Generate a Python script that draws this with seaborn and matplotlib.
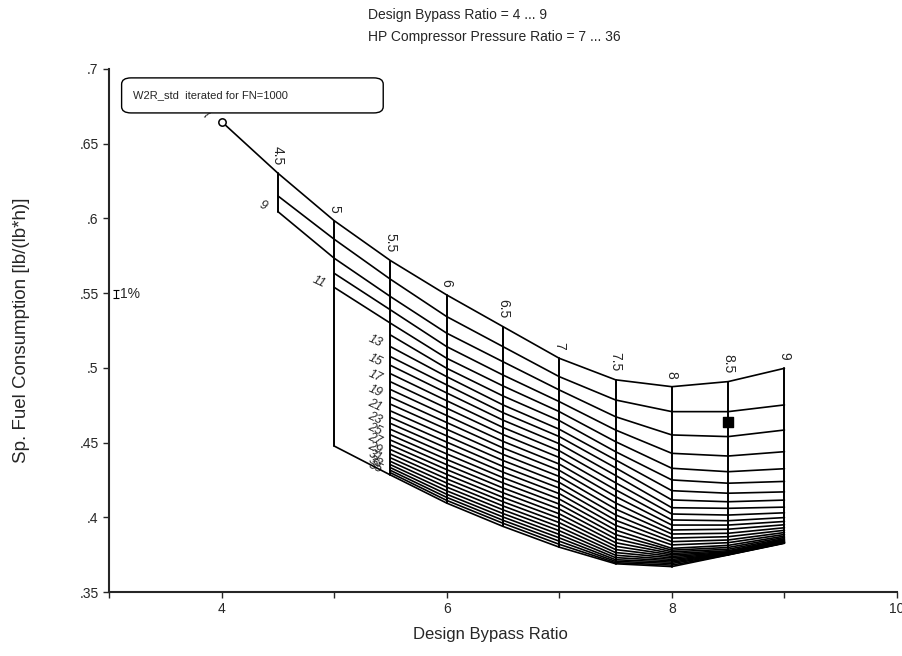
import pandas as pd
import numpy as np
import matplotlib
matplotlib.use("Agg")
import matplotlib.pyplot as plt
import seaborn as sns
from matplotlib.patches import FancyBboxPatch

# HP compressor pressure ratio levels (one carpet line each)
pr_levels = [7, 8, 9, 10, 11, 12, 13, 14, 15, 16, 17, 18, 19, 20, 21,
             22, 23, 24, 25, 26, 27, 28, 29, 30, 31, 32, 33, 34, 35, 36]
# design bypass ratio levels (vertical carpet lines)
bpr_levels = [4.0, 4.5, 5.0, 5.5, 6.0, 6.5, 7.0, 7.5, 8.0, 8.5, 9.0]

# low bypass ratios only converged for a few pressure ratios
pr_40 = [7]
pr_45 = [7, 8, 9]
pr_50 = [7, 8, 9, 10, 11, 36]

# sp. fuel consumption [lb/(lb*h)], per bypass ratio
sfc_40 = [0.6648]
sfc_45 = [0.6303, 0.6151, 0.6046]
sfc_50 = [0.5985, 0.5861, 0.5734, 0.5633, 0.5539, 0.4477]
sfc_55 = [0.5718, 0.5593, 0.5477, 0.5388, 0.5299, 0.5220, 0.5142, 0.5075, 0.5017, 0.4961,
          0.4907, 0.4855, 0.4805, 0.4757, 0.4712, 0.4669, 0.4628, 0.4589, 0.4552, 0.4517,
          0.4484, 0.4453, 0.4424, 0.4398, 0.4374, 0.4352, 0.4332, 0.4314, 0.4298, 0.4283]
sfc_60 = [0.5488, 0.5343, 0.5232, 0.5142, 0.5064, 0.4997, 0.4941, 0.4886, 0.4832, 0.4780,
          0.4730, 0.4681, 0.4634, 0.4589, 0.4545, 0.4503, 0.4463, 0.4424, 0.4387, 0.4352,
          0.4319, 0.4287, 0.4257, 0.4229, 0.4202, 0.4177, 0.4154, 0.4133, 0.4113, 0.4095]
sfc_65 = [0.5276, 0.5142, 0.5041, 0.4952, 0.4879, 0.4812, 0.4752, 0.4700, 0.4650, 0.4601,
          0.4554, 0.4508, 0.4464, 0.4421, 0.4380, 0.4340, 0.4302, 0.4265, 0.4230, 0.4196,
          0.4164, 0.4133, 0.4104, 0.4076, 0.4050, 0.4025, 0.4002, 0.3980, 0.3960, 0.3939]
sfc_70 = [0.5064, 0.4941, 0.4852, 0.4774, 0.4707, 0.4647, 0.4589, 0.4540, 0.4492, 0.4445,
          0.4400, 0.4356, 0.4314, 0.4273, 0.4233, 0.4195, 0.4158, 0.4122, 0.4088, 0.4055,
          0.4023, 0.3993, 0.3964, 0.3936, 0.3910, 0.3885, 0.3862, 0.3840, 0.3819, 0.3800]
sfc_75 = [0.4920, 0.4785, 0.4673, 0.4584, 0.4506, 0.4439, 0.4384, 0.4331, 0.4280, 0.4231,
          0.4184, 0.4139, 0.4096, 0.4055, 0.4016, 0.3980, 0.3946, 0.3914, 0.3884, 0.3856,
          0.3830, 0.3806, 0.3784, 0.3764, 0.3746, 0.3730, 0.3716, 0.3705, 0.3696, 0.3689]
sfc_80 = [0.4874, 0.4707, 0.4551, 0.4428, 0.4328, 0.4250, 0.4178, 0.4116, 0.4064, 0.4022,
          0.3982, 0.3948, 0.3915, 0.3888, 0.3861, 0.3837, 0.3815, 0.3792, 0.3780, 0.3769,
          0.3758, 0.3748, 0.3738, 0.3728, 0.3718, 0.3709, 0.3700, 0.3691, 0.3680, 0.3670]
sfc_85 = [0.4908, 0.4707, 0.4540, 0.4410, 0.4305, 0.4228, 0.4161, 0.4104, 0.4060, 0.4015,
          0.3977, 0.3948, 0.3920, 0.3893, 0.3870, 0.3848, 0.3830, 0.3812, 0.3798, 0.3786,
          0.3776, 0.3769, 0.3764, 0.3760, 0.3757, 0.3755, 0.3753, 0.3751, 0.3749, 0.3748]
sfc_90 = [0.4997, 0.4752, 0.4584, 0.4439, 0.4325, 0.4240, 0.4170, 0.4115, 0.4068, 0.4030,
          0.3998, 0.3972, 0.3950, 0.3930, 0.3913, 0.3898, 0.3885, 0.3874, 0.3865, 0.3857,
          0.3851, 0.3846, 0.3842, 0.3838, 0.3835, 0.3833, 0.3831, 0.3829, 0.3828, 0.3826]

# design point marker
design_bpr = 8.5
design_sfc = 0.4635

# axis ticks
xticks = [3, 4, 5, 6, 7, 8, 9, 10]
xtick_labels = ["", "4", "", "6", "", "8", "", "10"]
yticks = [0.35, 0.4, 0.45, 0.5, 0.55, 0.6, 0.65, 0.7]
ytick_labels = [".35", ".4", ".45", ".5", ".55", ".6", ".65", ".7"]

# build a long table: one row per converged point
columns = [(pr_40, sfc_40), (pr_45, sfc_45), (pr_50, sfc_50)] + \
          [(pr_levels, s) for s in (sfc_55, sfc_60, sfc_65, sfc_70, sfc_75, sfc_80, sfc_85, sfc_90)]
rows = []
for bpr, (prs, vals) in zip(bpr_levels, columns):
    for pr, sfc in zip(prs, vals):
        rows.append({"bpr": bpr, "pr": pr, "sfc": sfc})
df = pd.DataFrame(rows)

sns.set_style("ticks")
plt.rcParams["font.family"] = ["Liberation Sans", "DejaVu Sans"]

fig = plt.figure(figsize=(9.03, 6.56), dpi=100)
ax = fig.add_axes([109 / 903, 1 - 592 / 656, 788 / 903, 523 / 656])

# lines of constant pressure ratio
sns.lineplot(data=df, x="bpr", y="sfc", units="pr", estimator=None, color="black",
             linewidth=1.2, ax=ax, legend=False)
# lines of constant bypass ratio
sns.lineplot(data=df, x="bpr", y="sfc", units="bpr", estimator=None, color="black",
             linewidth=1.4, ax=ax, legend=False)

# start point and design point
ax.scatter([bpr_levels[0]], [sfc_40[0]], s=28, marker="o", facecolor="white",
           edgecolor="black", linewidth=1.1, zorder=5)
ax.scatter([design_bpr], [design_sfc], s=42, marker="s", color="black", zorder=5)

# bypass ratio labels on top of the vertical lines
for bpr, (prs, vals) in zip(bpr_levels[1:], columns[1:]):
    ax.annotate(f"{bpr:g}", (bpr, vals[0]), xytext=(0, 6), textcoords="offset points",
                rotation=-90, ha="center", va="bottom", fontsize=10)

# odd pressure ratio labels at the start of each line
starts = df.sort_values("bpr").groupby("pr").first()
for pr, r in starts.iterrows():
    if pr % 2 == 1 and pr < 36:
        ax.annotate(str(pr), (r["bpr"], r["sfc"]), xytext=(-11, 4),
                    textcoords="offset points", rotation=-25, ha="center",
                    va="center", fontsize=9, style="italic", zorder=1)

# 1% scale bar
ax.errorbar([3.06], [0.5495], yerr=[0.0028], color="black", capsize=2,
            elinewidth=0.8, capthick=0.8)
ax.text(3.1, 0.5495, "1%", va="center", ha="left", fontsize=10)

# note box
box = FancyBboxPatch((0.016, 0.916), 0.332, 0.067, boxstyle="round,pad=0,rounding_size=0.012",
                     transform=ax.transAxes, facecolor="white", edgecolor="black",
                     linewidth=1.0, zorder=6)
ax.add_patch(box)
ax.text(0.031, 0.95, "W2R_std  iterated for FN=1000", transform=ax.transAxes,
        fontsize=8, va="center", ha="left", zorder=7)

ax.set_xlim(3, 10)
ax.set_ylim(0.35, 0.7)
ax.set_xticks(xticks)
ax.set_xticklabels(xtick_labels)
ax.set_yticks(yticks)
ax.set_yticklabels(ytick_labels)
ax.tick_params(direction="out", length=4, width=1.0, labelsize=10)
sns.despine(ax=ax)
for side in ("left", "bottom"):
    ax.spines[side].set_linewidth(1.5)

ax.set_xlabel("Design Bypass Ratio", fontsize=12)
ax.xaxis.set_label_coords(0.4835, -0.066)
ax.set_ylabel("Sp. Fuel Consumption [lb/(lb*h)]", fontsize=13.5)
ax.yaxis.set_label_coords(-0.1, 0.5)

fig.text(368 / 903, 1 - 15 / 656, "Design Bypass Ratio = 4 ... 9", fontsize=10,
         ha="left", va="center")
fig.text(368 / 903, 1 - 37 / 656, "HP Compressor Pressure Ratio = 7 ... 36", fontsize=10,
         ha="left", va="center")

fig.savefig("out.png", dpi=100)
